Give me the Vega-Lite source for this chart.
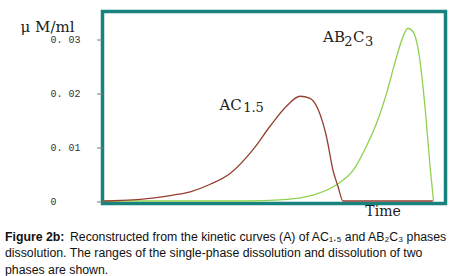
{
  "$schema": "https://vega.github.io/schema/vega-lite/v6.json",
  "width": 343,
  "height": 192,
  "autosize": {"type": "none"},
  "padding": {"left": 102.5, "top": 11.5, "right": 14.5, "bottom": 72.5},
  "background": "white",
  "title": {
    "text": "Figure 2b:",
    "subtitle": [
      "\u200b\u00a0\u00a0\u00a0\u00a0\u00a0\u00a0\u00a0\u00a0\u00a0\u00a0\u00a0\u00a0\u00a0\u00a0\u00a0\u00a0\u00a0\u00a0\u00a0Reconstructed from the kinetic curves (A) of AC₁.₅ and AB₂C₃ phases",
      "dissolution. The ranges of the single-phase dissolution and dissolution of two",
      "phases are shown."
    ],
    "orient": "bottom",
    "anchor": "start",
    "frame": "group",
    "dx": -97.5,
    "offset": 12.5,
    "font": "Liberation Sans",
    "fontSize": 12.3,
    "fontWeight": "bold",
    "color": "#111111",
    "subtitleFont": "Liberation Sans",
    "subtitleFontSize": 12.3,
    "subtitleFontWeight": "normal",
    "subtitleColor": "#111111",
    "subtitleLineHeight": 16.3,
    "subtitlePadding": -12.3
  },
  "datasets": {
    "curves": [
      {"series": "AB2C3", "t": 0.4, "v": 0},
      {"series": "AB2C3", "t": 42.1, "v": 0},
      {"series": "AB2C3", "t": 51.7, "v": 0.0002},
      {"series": "AB2C3", "t": 61.4, "v": 0.0011},
      {"series": "AB2C3", "t": 68.2, "v": 0.003},
      {"series": "AB2C3", "t": 73.1, "v": 0.0057},
      {"series": "AB2C3", "t": 76.9, "v": 0.0101},
      {"series": "AB2C3", "t": 79.9, "v": 0.0144},
      {"series": "AB2C3", "t": 82.8, "v": 0.0199},
      {"series": "AB2C3", "t": 85.2, "v": 0.0255},
      {"series": "AB2C3", "t": 87.6, "v": 0.0304},
      {"series": "AB2C3", "t": 89.0, "v": 0.032},
      {"series": "AB2C3", "t": 90.5, "v": 0.0314},
      {"series": "AB2C3", "t": 92.4, "v": 0.0267},
      {"series": "AB2C3", "t": 94.1, "v": 0.0169},
      {"series": "AB2C3", "t": 95.5, "v": 0.0064},
      {"series": "AB2C3", "t": 96.5, "v": 0},
      {"series": "AC1.5", "t": 0.4, "v": 0},
      {"series": "AC1.5", "t": 5.2, "v": 0.0001},
      {"series": "AC1.5", "t": 11.0, "v": 0.0003},
      {"series": "AC1.5", "t": 20.7, "v": 0.0011},
      {"series": "AC1.5", "t": 25.6, "v": 0.0017},
      {"series": "AC1.5", "t": 31.4, "v": 0.0031},
      {"series": "AC1.5", "t": 37.2, "v": 0.0051},
      {"series": "AC1.5", "t": 44.0, "v": 0.0096},
      {"series": "AC1.5", "t": 48.8, "v": 0.0138},
      {"series": "AC1.5", "t": 53.7, "v": 0.0176},
      {"series": "AC1.5", "t": 57.6, "v": 0.0194},
      {"series": "AC1.5", "t": 60.5, "v": 0.019},
      {"series": "AC1.5", "t": 62.9, "v": 0.0169},
      {"series": "AC1.5", "t": 65.3, "v": 0.0119},
      {"series": "AC1.5", "t": 67.2, "v": 0.0057},
      {"series": "AC1.5", "t": 68.7, "v": 0.0026},
      {"series": "AC1.5", "t": 70.1, "v": 0},
      {"series": "AC1.5", "t": 96.3, "v": 0}
    ],
    "labels": [
      {"text": "AC", "role": "main", "t": 34.1, "v": 0.0169},
      {"text": "1.5", "role": "sub", "t": 41.0, "v": 0.0164},
      {"text": "AB", "role": "main", "t": 64.3, "v": 0.0294},
      {"text": "2", "role": "sub", "t": 70.5, "v": 0.0288},
      {"text": "C", "role": "main", "t": 73.0, "v": 0.0294},
      {"text": "3", "role": "sub", "t": 76.5, "v": 0.0288}
    ]
  },
  "layer": [
    {
      "data": {"name": "curves"},
      "mark": {"type": "line", "interpolate": "monotone", "strokeWidth": 1.3},
      "encoding": {
        "x": {
          "field": "t", "type": "quantitative",
          "scale": {"domain": [0, 100], "nice": false, "zero": false},
          "axis": {
            "labels": false, "ticks": false, "domain": false, "grid": false,
            "title": "Time", "titleX": 280, "titleY": 8, "titleAlign": "center",
            "titleBaseline": "middle", "titleFont": "DejaVu Serif", "titleFontSize": 14,
            "titleFontWeight": "normal", "titleColor": "#222222"
          }
        },
        "y": {
          "field": "v", "type": "quantitative",
          "scale": {"domain": [-0.00046, 0.0351], "nice": false, "zero": false},
          "axis": {
            "values": [0, 0.01, 0.02, 0.03],
            "domain": false, "grid": false,
            "tickSize": 6, "tickColor": "#777777", "tickWidth": 1,
            "labelFont": "Liberation Mono", "labelFontSize": 10, "labelColor": "#333333",
            "labelAlign": "left", "labelPadding": 46.5,
            "labelExpr": "datum.value == 0 ? '0' : replace(format(datum.value, '.2f'), '.', '. ')",
            "title": "μ M/ml", "titleAngle": 0, "titleX": -82.5, "titleY": 14.5,
            "titleAlign": "left", "titleBaseline": "middle",
            "titleFont": "DejaVu Serif", "titleFontSize": 15, "titleFontWeight": "normal",
            "titleColor": "#222222"
          }
        },
        "color": {
          "field": "series", "type": "nominal",
          "scale": {"domain": ["AB2C3", "AC1.5"], "range": ["#8fd14f", "#943f30"]},
          "legend": null
        },
        "order": {"field": "series", "sort": "ascending"}
      }
    },
    {
      "data": {"name": "labels"},
      "transform": [{"filter": "datum.role == 'main'"}],
      "mark": {"type": "text", "align": "left", "baseline": "alphabetic", "font": "DejaVu Serif", "fontSize": 15, "color": "#222222"},
      "encoding": {
        "x": {"field": "t", "type": "quantitative"},
        "y": {"field": "v", "type": "quantitative"},
        "text": {"field": "text"}
      }
    },
    {
      "data": {"name": "labels"},
      "transform": [{"filter": "datum.role == 'sub'"}],
      "mark": {"type": "text", "align": "left", "baseline": "alphabetic", "font": "DejaVu Serif", "fontSize": 13, "color": "#222222"},
      "encoding": {
        "x": {"field": "t", "type": "quantitative"},
        "y": {"field": "v", "type": "quantitative"},
        "text": {"field": "text"}
      }
    }
  ],
  "config": {
    "view": {"stroke": "#17827e", "strokeWidth": 3.5}
  }
}
